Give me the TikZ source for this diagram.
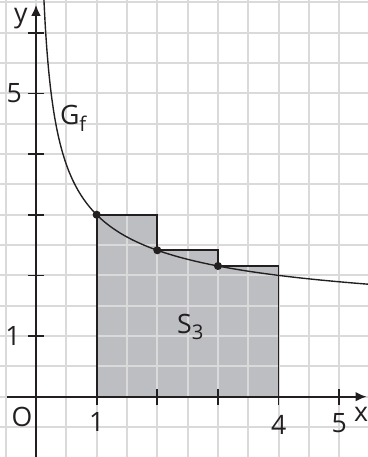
\documentclass[tikz,border=0pt]{standalone}
\usepackage{fontspec}
\setmainfont{Open Sans}
\usetikzlibrary{arrows.meta}
\definecolor{gridc}{RGB}{218,218,218}
\definecolor{fillc}{RGB}{189,190,193}
\definecolor{inkc}{RGB}{35,31,32}
\newcommand{\subtxt}[1]{\raisebox{-3.2pt}{\fontsize{9.5}{10}\selectfont #1}}
\begin{document}
\begin{tikzpicture}[x=1cm,y=1cm,
  lbl/.style={font=\fontsize{12.5}{14}\selectfont, text=inkc, inner sep=0pt},
  dot/.style={circle, fill=inkc, inner sep=0pt, minimum size=3.8pt},
  axis/.style={inkc, line width=0.9pt, -{Latex[length=5.2pt,width=4.6pt]}},
  tick/.style={inkc, line width=0.8pt},
  stepline/.style={inkc, line width=0.8pt},
  curve/.style={inkc, line width=0.65pt}]
\useasboundingbox (-0.5935,-0.994) rectangle (5.473,6.54);
\clip (-0.5935,-0.994) rectangle (5.473,6.54);
% shaded upper sum
\fill[fillc] (1,0) -- (1,3) -- (2,3) -- (2,{2/sqrt(2)+1}) -- (3,{2/sqrt(2)+1}) -- (3,{2/sqrt(3)+1}) -- (4,{2/sqrt(3)+1}) -- (4,0) -- cycle;
% grid
\draw[gridc, line width=1pt] (-0.5935,-0.994) grid[step=0.5] (5.473,6.54);
% outline of rectangles
\draw[stepline] (1,0) -- (1,3) -- (2,3) -- (2,{2/sqrt(2)+1}) -- (3,{2/sqrt(2)+1}) -- (3,{2/sqrt(3)+1}) -- (4,{2/sqrt(3)+1}) -- (4,0);
% axes
\coordinate (xs) at (-0.48,0);
\coordinate (xe) at (5.45,0);
\coordinate (ys) at (0,-1.0);
\coordinate (ye) at (0,6.46);
\draw[axis] (xs) -- (xe);
\draw[axis] (ys) -- (ye);
\foreach \i in {1,...,5} \draw[tick] (\i,-0.13) -- (\i,0.13);
\foreach \i in {1,...,6} \draw[tick] (-0.13,\i) -- (0.13,\i);
% curve
\draw[curve, domain=0.125:5.5, samples=200, smooth] plot (\x,{2/sqrt(\x)+1});
% points
\node[dot] (p1) at (1,3) {};
\node[dot] (p2) at (2,{2/sqrt(2)+1}) {};
\node[dot] (p3) at (3,{2/sqrt(3)+1}) {};
% labels
\node[lbl] (ylab) at (-0.25,6.24) {y};
\node[lbl] (xlab) at (5.36,-0.29) {x};
\node[lbl] (olab) at (-0.23,-0.33) {O};
\node[lbl] (y5) at (-0.36,5) {5};
\node[lbl] (y1) at (-0.38,1) {1};
\node[lbl] (x1) at (1,-0.42) {1};
\node[lbl] (x4) at (4,-0.46) {4};
\node[lbl] (x5) at (5,-0.43) {5};
\node[lbl, anchor=base west] (gf) at (0.39,4.48) {G\subtxt{f}};
\node[lbl, anchor=base west] (s3) at (2.32,1.05) {S\subtxt{3}};
\end{tikzpicture}
\end{document}
